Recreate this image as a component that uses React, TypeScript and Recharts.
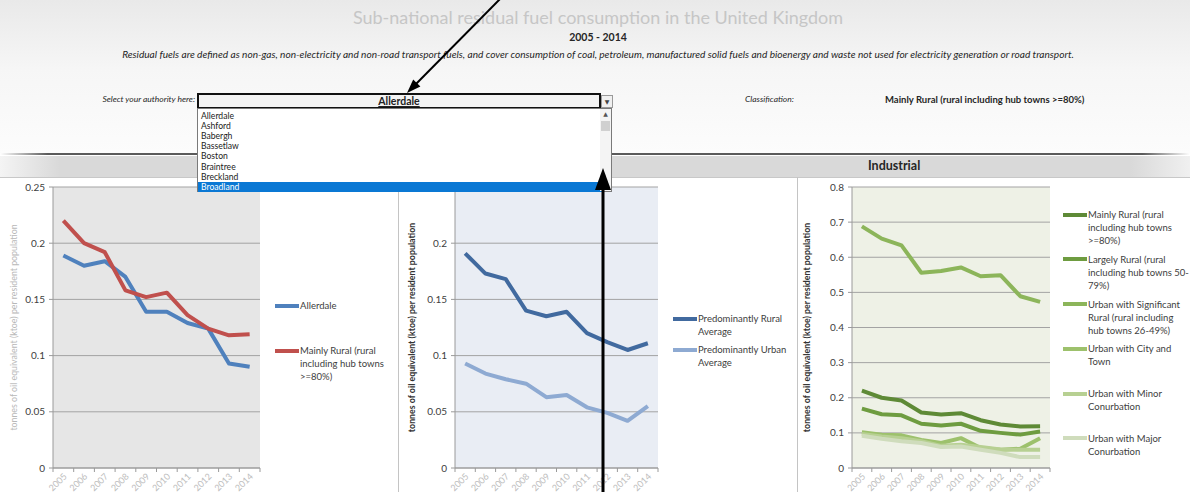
import React from 'react';
import { LineChart, Line, XAxis, YAxis, CartesianGrid, Legend } from 'recharts';

const FONT = "Lato, 'Noto Sans', 'DejaVu Sans', sans-serif";

const years = ['2005', '2006', '2007', '2008', '2009', '2010', '2011', '2012', '2013', '2014'];

// left panel: selected authority vs its classification
const allerdale = [0.189, 0.18, 0.184, 0.17, 0.139, 0.139, 0.129, 0.124, 0.093, 0.09];
const mainlyRural = [0.22, 0.2, 0.192, 0.158, 0.152, 0.156, 0.136, 0.124, 0.118, 0.119];

// middle panel: rural / urban averages
const predRural = [0.191, 0.173, 0.168, 0.14, 0.135, 0.139, 0.12, 0.112, 0.105, 0.111];
const predUrban = [0.093, 0.084, 0.079, 0.075, 0.063, 0.065, 0.054, 0.049, 0.042, 0.055];

// right panel: all classifications
const largelyRural = [0.169, 0.153, 0.15, 0.126, 0.121, 0.126, 0.106, 0.1, 0.095, 0.104];
const urbanSigRural = [0.688, 0.653, 0.634, 0.556, 0.561, 0.571, 0.546, 0.549, 0.489, 0.473];
const urbanCityTown = [0.102, 0.095, 0.093, 0.08, 0.071, 0.085, 0.057, 0.052, 0.055, 0.085];
const urbanMinor = [0.097, 0.09, 0.085, 0.076, 0.063, 0.066, 0.06, 0.053, 0.052, 0.052];
const urbanMajor = [0.092, 0.083, 0.076, 0.071, 0.06, 0.061, 0.052, 0.043, 0.031, 0.031];

const smallTicks = [0, 0.05, 0.1, 0.15, 0.2, 0.25];
const bigTicks = [0, 0.1, 0.2, 0.3, 0.4, 0.5, 0.6, 0.7, 0.8];

const authorities = ['Allerdale', 'Ashford', 'Babergh', 'Bassetlaw', 'Boston', 'Braintree', 'Breckland', 'Broadland'];

const yLabelText = 'tonnes of oil equivalent  (ktoe) per resident population';

const data = years.map((year, i) => ({
  year,
  allerdale: allerdale[i],
  mainlyRural: mainlyRural[i],
  predRural: predRural[i],
  predUrban: predUrban[i],
  largelyRural: largelyRural[i],
  urbanSigRural: urbanSigRural[i],
  urbanCityTown: urbanCityTown[i],
  urbanMinor: urbanMinor[i],
  urbanMajor: urbanMajor[i],
}));

type SeriesDef = { key: string; name: string; color: string };

const leftSeries: SeriesDef[] = [
  { key: 'allerdale', name: 'Allerdale', color: '#4f81bd' },
  { key: 'mainlyRural', name: 'Mainly Rural (rural\nincluding hub towns\n>=80%)', color: '#c0504d' },
];
const midSeries: SeriesDef[] = [
  { key: 'predRural', name: 'Predominantly Rural\nAverage', color: '#416a9f' },
  { key: 'predUrban', name: 'Predominantly Urban\nAverage', color: '#8eaad2' },
];
const rightSeries: SeriesDef[] = [
  { key: 'mainlyRural', name: 'Mainly Rural (rural\nincluding hub towns\n>=80%)', color: '#5e8a36' },
  { key: 'largelyRural', name: 'Largely Rural (rural\nincluding hub towns 50-\n79%)', color: '#6e9c40' },
  { key: 'urbanSigRural', name: 'Urban with Significant\nRural (rural including\nhub towns 26-49%)', color: '#8cb55a' },
  { key: 'urbanCityTown', name: 'Urban with City and\nTown', color: '#9dc16c' },
  { key: 'urbanMinor', name: 'Urban with Minor\nConurbation', color: '#b7d092' },
  { key: 'urbanMajor', name: 'Urban with Major\nConurbation', color: '#cfdcbc' },
];

function YearTick(props: any) {
  const { x, y, payload, bw } = props;
  const i = years.indexOf(payload.value);
  return (
    <g>
      <line x1={x - bw / 2} x2={x - bw / 2} y1={y} y2={y + 4} stroke="#9a9a9a" />
      {i === years.length - 1 && <line x1={x + bw / 2} x2={x + bw / 2} y1={y} y2={y + 4} stroke="#9a9a9a" />}
      <text
        x={x + 4}
        y={y + 9}
        transform={`rotate(-45 ${x + 4} ${y + 9})`}
        textAnchor="end"
        fontSize={9}
        fontFamily={FONT}
        fill="#bdbdbd"
      >
        {payload.value}
      </text>
    </g>
  );
}

function LegendBox({ series, itemHeight }: { series: SeriesDef[]; itemHeight: number }) {
  return (
    <div style={{ fontFamily: FONT, fontSize: 9.5, color: '#404040', lineHeight: '13px' }}>
      {series.map((s) => (
        <div key={s.key} style={{ height: itemHeight, display: 'flex' }}>
          <div style={{ width: 24, height: 4, background: s.color, marginTop: 4.5, flex: 'none' }} />
          <div style={{ whiteSpace: 'pre', marginLeft: 1 }}>{s.name}</div>
        </div>
      ))}
    </div>
  );
}

interface PanelProps {
  left: number;
  width: number;
  axisWidth: number;
  rightMargin: number;
  domain: [number, number];
  ticks: number[];
  plotFill: string;
  series: SeriesDef[];
  legendLeft: number;
  legendTop: number;
  legendItemHeight: number;
  labelColor: string;
  labelBold: boolean;
  labelX: number;
}

function Panel(p: PanelProps) {
  const plotW = p.width - p.axisWidth - p.rightMargin;
  const bw = plotW / years.length;
  return (
    <div style={{ position: 'absolute', left: p.left, top: 177 }}>
      <LineChart
        width={p.width}
        height={315}
        data={data}
        margin={{ top: 10, right: p.rightMargin, bottom: 0, left: 0 }}
      >
        <CartesianGrid vertical={false} fill={p.plotFill} fillOpacity={1} stroke="#a3a3a3" />
        <XAxis
          dataKey="year"
          height={24}
          padding={{ left: bw / 2, right: bw / 2 }}
          interval={0}
          tickSize={0}
          tickMargin={0}
          stroke="#9a9a9a"
          tick={(t: any) => <YearTick {...t} bw={bw} />}
        />
        <YAxis
          width={p.axisWidth}
          domain={p.domain}
          ticks={p.ticks}
          interval={0}
          tickSize={4}
          tickMargin={4}
          stroke="#9a9a9a"
          tick={{ fontSize: 10, fill: '#404040', fontFamily: FONT }}
          label={(lp: any) => {
            const vb = lp.viewBox || {};
            const cy = (vb.y || 10) + (vb.height || 281) / 2;
            return (
              <text
                x={p.labelX}
                y={cy}
                transform={`rotate(-90 ${p.labelX} ${cy})`}
                textAnchor="middle"
                dominantBaseline="middle"
                fontSize={8.8}
                fontWeight={p.labelBold ? 700 : 400}
                fontFamily={FONT}
                fill={p.labelColor}
              >
                {yLabelText}
              </text>
            );
          }}
        />
        <Legend
          layout="vertical"
          align="center"
          verticalAlign="middle"
          wrapperStyle={{ left: p.legendLeft, top: p.legendTop, width: p.width - p.legendLeft, height: 'auto' }}
          content={() => <LegendBox series={p.series} itemHeight={p.legendItemHeight} />}
        />
        {p.series.map((s) => (
          <Line
            key={s.key}
            type="linear"
            dataKey={s.key}
            name={s.name}
            stroke={s.color}
            strokeWidth={4}
            strokeLinejoin="round"
            dot={false}
            activeDot={false}
            isAnimationActive={false}
          />
        ))}
      </LineChart>
    </div>
  );
}

export default function App() {
  return (
    <div
      style={{
        position: 'fixed',
        left: 0,
        top: 0,
        width: 1190,
        height: 492,
        overflow: 'hidden',
        background: '#fff',
        fontFamily: FONT,
      }}
    >
      {/* header area */}
      <div
        style={{
          position: 'absolute',
          left: 0,
          top: 0,
          width: 1190,
          height: 153,
          background: 'linear-gradient(#e9e9e9, #f6f6f6 45%, #fcfcfc)',
        }}
      />
      <div style={{ position: 'absolute', left: 0, top: 6, width: 1196, textAlign: 'center', fontSize: 18, color: '#c6c6c6' }}>
        Sub-national residual fuel consumption in the United Kingdom
      </div>
      <div style={{ position: 'absolute', left: 0, top: 31, width: 1196, textAlign: 'center', fontSize: 10.5, fontWeight: 700, color: '#262626' }}>
        2005 - 2014
      </div>
      <div style={{ position: 'absolute', left: 0, top: 48, width: 1196, textAlign: 'center', fontSize: 10.1, fontStyle: 'italic', color: '#262626' }}>
        Residual fuels are defined as non-gas, non-electricity and non-road transport fuels, and cover consumption of coal, petroleum, manufactured solid fuels and bioenergy and waste not used for electricity generation or road transport.
      </div>
      <div style={{ position: 'absolute', left: 0, top: 94, width: 195, textAlign: 'right', fontSize: 8.5, fontStyle: 'italic', color: '#262626' }}>
        Select your authority here:
      </div>
      <div style={{ position: 'absolute', left: 745, top: 94, fontSize: 8.5, fontStyle: 'italic', color: '#262626' }}>
        Classification:
      </div>
      <div style={{ position: 'absolute', left: 885, top: 94, fontSize: 9.5, fontWeight: 700, color: '#262626' }}>
        Mainly Rural (rural including hub towns &gt;=80%)
      </div>

      {/* separator + section band */}
      <div
        style={{
          position: 'absolute',
          left: 0,
          top: 153,
          width: 1190,
          height: 2,
          background: 'linear-gradient(to right, rgba(80,80,80,0), #5a5a5a 4%, #5a5a5a 96%, rgba(80,80,80,0))',
        }}
      />
      <div
        style={{
          position: 'absolute',
          left: 0,
          top: 156,
          width: 1190,
          height: 21,
          background: 'linear-gradient(to right, #f4f4f4, #d9d9d9 5%, #d9d9d9 95%, #f0f0f0)',
          borderBottom: '1px solid #c8c8c8',
        }}
      />
      <div style={{ position: 'absolute', left: 868, top: 158, fontSize: 12.5, fontWeight: 700, color: '#262626' }}>
        Industrial
      </div>

      <Panel
        left={0}
        width={398}
        axisWidth={53}
        rightMargin={138}
        domain={[0, 0.25]}
        ticks={smallTicks}
        plotFill="#e6e6e6"
        series={leftSeries}
        legendLeft={275}
        legendTop={122}
        legendItemHeight={45}
        labelColor="#b8b8b8"
        labelBold={false}
        labelX={15}
      />
      <Panel
        left={398}
        width={399}
        axisWidth={57}
        rightMargin={139}
        domain={[0, 0.25]}
        ticks={smallTicks}
        plotFill="#e9edf4"
        series={midSeries}
        legendLeft={275}
        legendTop={135}
        legendItemHeight={31}
        labelColor="#333333"
        labelBold={true}
        labelX={15}
      />
      <Panel
        left={797}
        width={393}
        axisWidth={55}
        rightMargin={140}
        domain={[0, 0.8]}
        ticks={bigTicks}
        plotFill="#eef1e6"
        series={rightSeries}
        legendLeft={266}
        legendTop={31}
        legendItemHeight={44.8}
        labelColor="#333333"
        labelBold={true}
        labelX={11}
      />

      {/* panel dividers */}
      <div style={{ position: 'absolute', left: 398, top: 177, width: 1, height: 315, background: '#c4c4c4' }} />
      <div style={{ position: 'absolute', left: 797, top: 177, width: 1, height: 315, background: '#c4c4c4' }} />

      {/* authority drop-down */}
      <div
        style={{
          position: 'absolute',
          left: 197,
          top: 93,
          width: 400,
          height: 12,
          border: '2px solid #111',
          background: '#f3f3f3',
          textAlign: 'center',
          fontSize: 10.5,
          fontWeight: 700,
          lineHeight: '12px',
          color: '#222',
        }}
      >
        <span style={{ textDecoration: 'underline' }}>{authorities[0]}</span>
      </div>
      <div
        style={{
          position: 'absolute',
          left: 601,
          top: 95,
          width: 10,
          height: 11,
          border: '1px solid #9a9a9a',
          background: '#f0f0f0',
          fontSize: 6,
          lineHeight: '11px',
          textAlign: 'center',
          color: '#444',
        }}
      >
        ▼
      </div>
      <div
        style={{
          position: 'absolute',
          left: 197,
          top: 108,
          width: 413,
          height: 82,
          border: '1px solid #7a7a7a',
          background: '#fff',
        }}
      >
        {authorities.map((a, i) => (
          <div
            key={a}
            style={{
              position: 'absolute',
              left: 0,
              top: 2 + i * 10.1,
              width: 402,
              height: 10,
              paddingLeft: 3,
              fontSize: 8.6,
              lineHeight: '10px',
              color: i === authorities.length - 1 ? '#fff' : '#222',
              background: i === authorities.length - 1 ? '#0a78d4' : 'transparent',
            }}
          >
            {a}
          </div>
        ))}
        <div style={{ position: 'absolute', left: 402, top: 0, width: 11, height: 82, background: '#f4f4f4' }}>
          <div style={{ position: 'absolute', top: 1, width: 11, textAlign: 'center', fontSize: 6, color: '#555' }}>▲</div>
          <div style={{ position: 'absolute', top: 12, left: 1, width: 9, height: 10, background: '#d0d0d0' }} />
          <div style={{ position: 'absolute', top: 72, width: 11, textAlign: 'center', fontSize: 6, color: '#555' }}>▼</div>
        </div>
      </div>

      {/* annotation arrows */}
      <svg width={1190} height={492} style={{ position: 'absolute', left: 0, top: 0, pointerEvents: 'none' }}>
        <line x1={501} y1={-2} x2={415} y2={85} stroke="#000" strokeWidth={2} />
        <polygon points="407,93 420.4,86.5 413.2,79.5" fill="#000" />
        <line x1={603} y1={492} x2={603} y2={186} stroke="#000" strokeWidth={3} />
        <polygon points="603,168 595,190 611,190" fill="#000" />
      </svg>
    </div>
  );
}
